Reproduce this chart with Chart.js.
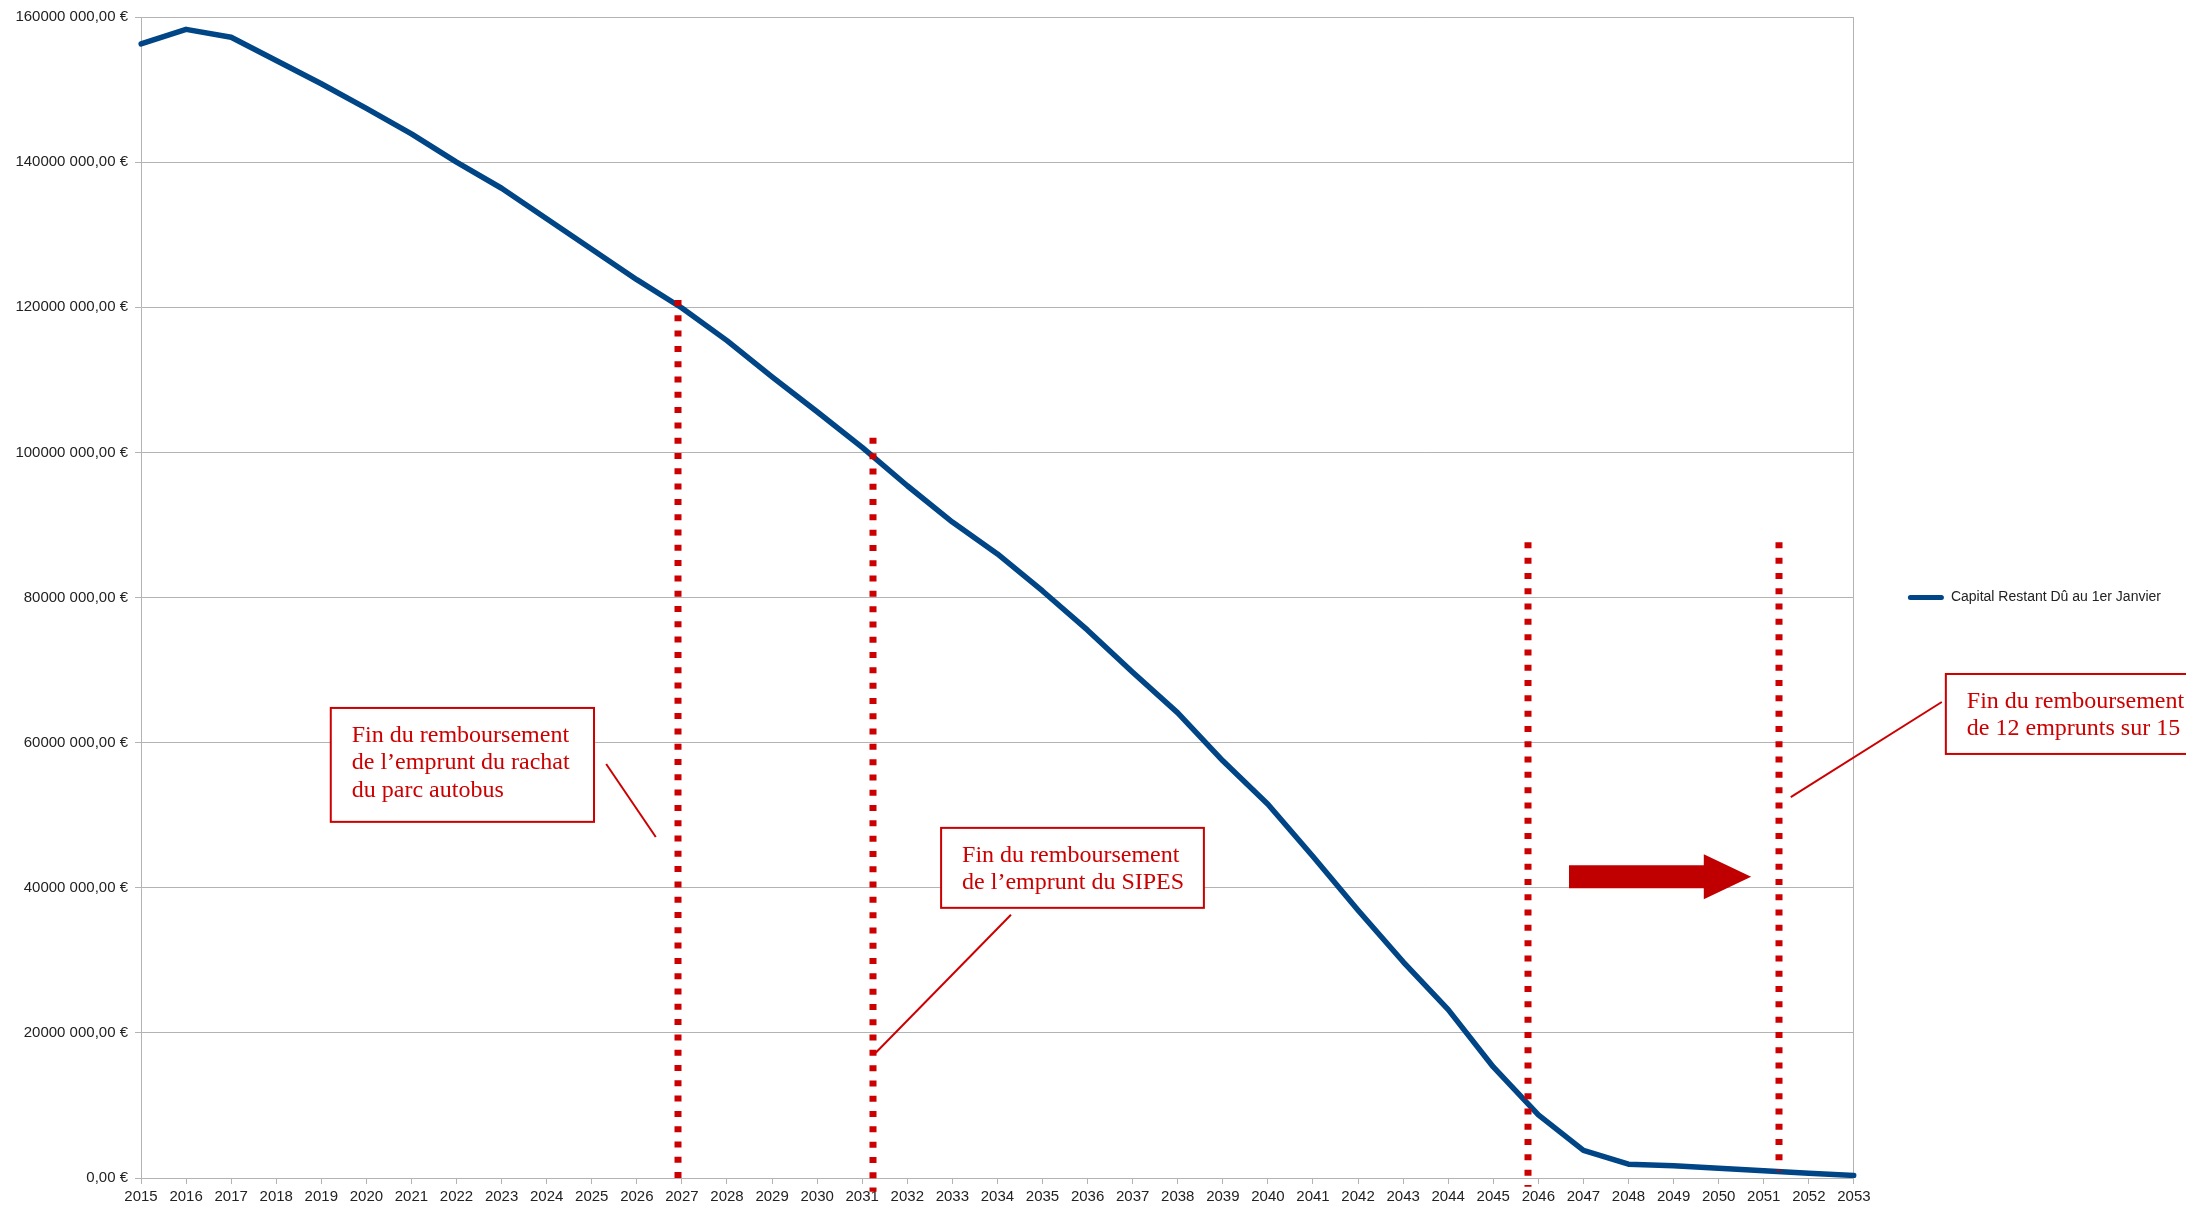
<!DOCTYPE html>
<html lang="fr">
<head>
<meta charset="utf-8">
<title>Capital Restant Dû au 1er Janvier</title>
<script src="https://cdn.jsdelivr.net/npm/chart.js@4.4.1/dist/chart.umd.min.js"></script>
<style>
  html, body { margin: 0; padding: 0; background: #ffffff; }
  #wrap { width: 2186px; height: 1206px; position: relative; }
</style>
</head>
<body>
<div id="wrap"><canvas id="c"></canvas></div>
<script>
// ---- Données ----
const years = [
  '2015','2016','2017','2018','2019','2020','2021','2022','2023','2024',
  '2025','2026','2027','2028','2029','2030','2031','2032','2033','2034',
  '2035','2036','2037','2038','2039','2040','2041','2042','2043','2044',
  '2045','2046','2047','2048','2049','2050','2051','2052','2053'
];
const capitalRestantDu = [
  156300000, 158300000, 157200000, 154000000, 150800000, 147400000, 143900000, 140000000, 136400000, 132200000,
  128000000, 123800000, 119900000, 115400000, 110400000, 105600000, 100700000,  95400000,  90400000,  86000000,
   80900000,  75500000,  69700000,  64100000,  57500000,  51500000,  44300000,  36900000,  29800000,  23200000,
   15300000,   8700000,   3800000,   1900000,   1700000,   1350000,   1000000,    650000,    350000
];
const yTickLabels = [
  '0,00 €', '20000 000,00 €', '40000 000,00 €', '60000 000,00 €', '80000 000,00 €',
  '100000 000,00 €', '120000 000,00 €', '140000 000,00 €', '160000 000,00 €'
];
const seriesLabel = 'Capital Restant Dû au 1er Janvier';

// ---- Repères des fins de remboursement (en années et en euros) ----
const finYears   = [2026.92, 2031.25, 2045.77, 2051.33];
const finTops    = [121000000, 102000000, 87600000, 87600000];
const finBottoms = [0, -1900000, -1200000, 1000000];

const notes = [
  { lines: ['Fin du remboursement', 'de l’emprunt du rachat', 'du parc autobus'],
    from: [2019.21, 64780000], to: [2025.05, 49080000],
    leader: [2025.32, 57060000, 2026.42, 47000000] },
  { lines: ['Fin du remboursement', 'de l’emprunt du SIPES'],
    from: [2032.75, 48250000], to: [2038.58, 37230000],
    leader: [2034.30, 36270000, 2031.30, 17260000] },
  { lines: ['Fin du remboursement', 'de 12 emprunts sur 15'],
    from: [2055.04, 69460000], to: [2060.70, 58440000],
    leader: [2054.95, 65600000, 2051.60, 52500000] }
];
const arrowSpan = { start: 2046.68, headBase: 2049.67, tip: 2050.72, value: 41500000 };

// ---- Styles ----
const BLUE = '#004586';
const RED = '#cc0000';
const ARROW_RED = '#c00000';
const GRID = '#b3b3b3';
const TEXT = '#222222';

Chart.defaults.font.family = "'Liberation Sans', Arial, sans-serif";
Chart.defaults.color = TEXT;

const firstYear = Number(years[0]);

const finsPlugin = {
  id: 'finsRemboursement',
  afterDraw(chart) {
    const { ctx, scales: { x, y } } = chart;
    const px = yr => x.getPixelForValue(yr - firstYear);
    const py = v => y.getPixelForValue(v);
    ctx.save();

    // pointillés verticaux
    ctx.strokeStyle = RED;
    ctx.lineWidth = 7;
    ctx.lineCap = 'butt';
    ctx.setLineDash([6, 9.3]);
    finYears.forEach((yr, i) => {
      const xx = Math.round(px(yr));
      ctx.beginPath();
      ctx.moveTo(xx, py(finTops[i]));
      ctx.lineTo(xx, py(finBottoms[i]));
      ctx.stroke();
    });
    ctx.setLineDash([]);

    // encadrés et traits de rappel
    notes.forEach(n => {
      const l = px(n.from[0]), t = py(n.from[1]);
      const r = px(n.to[0]), b = py(n.to[1]);
      ctx.lineWidth = 2;
      ctx.strokeStyle = RED;
      ctx.beginPath();
      ctx.moveTo(px(n.leader[0]), py(n.leader[1]));
      ctx.lineTo(px(n.leader[2]), py(n.leader[3]));
      ctx.stroke();

      ctx.fillStyle = '#ffffff';
      ctx.fillRect(l, t, r - l, b - t);
      ctx.strokeRect(l, t, r - l, b - t);

      ctx.fillStyle = RED;
      ctx.font = "24px 'Liberation Serif', 'Times New Roman', serif";
      ctx.textAlign = 'left';
      ctx.textBaseline = 'alphabetic';
      n.lines.forEach((s, k) => ctx.fillText(s, l + 21, t + 34 + k * 27.4));
    });

    // flèche
    const a0 = px(arrowSpan.start), a1 = px(arrowSpan.headBase), a2 = px(arrowSpan.tip);
    const ay = py(arrowSpan.value);
    ctx.fillStyle = ARROW_RED;
    ctx.beginPath();
    ctx.moveTo(a0, ay - 11.5);
    ctx.lineTo(a1, ay - 11.5);
    ctx.lineTo(a1, ay - 22.5);
    ctx.lineTo(a2, ay);
    ctx.lineTo(a1, ay + 22.5);
    ctx.lineTo(a1, ay + 11.5);
    ctx.lineTo(a0, ay + 11.5);
    ctx.closePath();
    ctx.fill();

    ctx.restore();
  }
};

new Chart(document.getElementById('c'), {
  type: 'line',
  data: {
    labels: years,
    datasets: [{
      label: seriesLabel,
      data: capitalRestantDu,
      borderColor: BLUE,
      backgroundColor: BLUE,
      borderWidth: 5.5,
      borderJoinStyle: 'round',
      borderCapStyle: 'round',
      pointRadius: 0,
      pointHoverRadius: 0,
      tension: 0,
      fill: false
    }]
  },
  options: {
    responsive: true,
    maintainAspectRatio: false,
    devicePixelRatio: 1,
    animation: false,
    events: [],
    layout: { padding: { top: 17, right: 15, bottom: 0, left: 0 } },
    scales: {
      x: {
        type: 'category',
        offset: false,
        border: { color: GRID, width: 1 },
        grid: {
          drawOnChartArea: true,
          color: c => (c.index === years.length - 1 ? GRID : 'rgba(0,0,0,0)'),
          tickColor: GRID,
          tickLength: 6,
          lineWidth: 1
        },
        ticks: {
          autoSkip: false,
          maxRotation: 0,
          minRotation: 0,
          padding: 4,
          color: TEXT,
          font: { size: 15 }
        },
        afterFit: s => { s.height = 28; }
      },
      y: {
        min: 0,
        max: 160000000,
        border: { color: GRID, width: 1 },
        grid: { color: GRID, tickColor: GRID, tickLength: 6, lineWidth: 1 },
        ticks: {
          stepSize: 20000000,
          padding: 7,
          color: TEXT,
          font: { size: 15 },
          callback: v => yTickLabels[Math.round(v / 20000000)]
        },
        afterFit: s => { s.width = 141; }
      }
    },
    plugins: {
      title: { display: false },
      tooltip: { enabled: false },
      legend: {
        display: true,
        position: 'right',
        align: 'center',
        fullSize: false,
        labels: {
          boxWidth: 36,
          boxHeight: 5,
          padding: 54,
          color: TEXT,
          font: { size: 14 },
          generateLabels: chart => {
            const items = Chart.defaults.plugins.legend.labels.generateLabels(chart);
            items.forEach(it => {
              it.fillStyle = BLUE;
              it.strokeStyle = BLUE;
              it.lineWidth = 0;
              it.borderRadius = 2.5;
            });
            return items;
          }
        }
      }
    }
  },
  plugins: [finsPlugin]
});
</script>
</body>
</html>
